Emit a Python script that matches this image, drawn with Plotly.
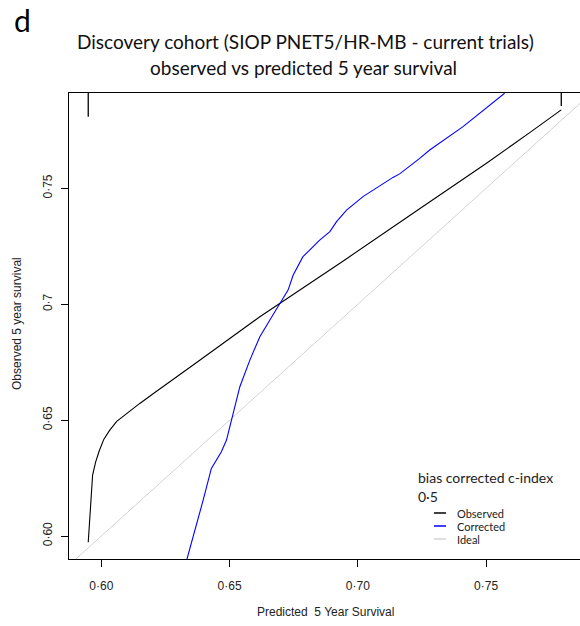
import plotly.graph_objects as go

# ---- data ----
obs_x = [0.5949, 0.5966, 0.5978, 0.5992, 0.6010, 0.6033, 0.6060, 0.6098, 0.6150, 0.6210, 0.6280, 0.6358,
         0.6618, 0.6949, 0.7228, 0.7500, 0.7670, 0.7793]
obs_y = [0.5973, 0.6263, 0.6320, 0.6368, 0.6418, 0.6457, 0.6495, 0.6529, 0.6572, 0.6620, 0.6675, 0.6738,
         0.6946, 0.7191, 0.7402, 0.7607, 0.7740, 0.7838]

cor_x = [0.6334, 0.6371, 0.6397, 0.6429, 0.6468, 0.6488, 0.6507, 0.6540, 0.6579, 0.6618, 0.6657, 0.6696,
         0.6728, 0.6748, 0.6786, 0.6813, 0.6850, 0.6891, 0.6917, 0.6956, 0.7020, 0.7137, 0.7163, 0.7241,
         0.7280, 0.7410, 0.7572]
cor_y = [0.5901, 0.6047, 0.6155, 0.6292, 0.6364, 0.6414, 0.6500, 0.6644, 0.6759, 0.6860, 0.6932, 0.7004,
         0.7061, 0.7126, 0.7205, 0.7234, 0.7275, 0.7313, 0.7356, 0.7406, 0.7464, 0.7547, 0.7562, 0.7629,
         0.7665, 0.7766, 0.7910]

ideal_x = [0.58, 0.80]
ideal_y = [0.58, 0.80]

rug_x = [0.5949, 0.7793]
rug_end = [0.7809, 0.7855]

x_ticks = [0.60, 0.65, 0.70, 0.75]
x_ticklabels = ["0·60", "0·65", "0·70", "0·75"]
y_ticks = [0.60, 0.65, 0.70, 0.75]
y_ticklabels = ["0·60", "0·65", "0·7", "0·75"]

legend_labels = ["Observed", "Corrected", "Ideal"]
legend_colors = ["black", "#0000ff", "#d3d3d3"]
cindex_label = "0·5"

X_RANGE = [0.5874, 0.7866]
Y_RANGE = [0.5901, 0.7911]

# ---- layout geometry ----
W, H = 580, 626
ML, MR, MT, MB = 69, 0, 93, 67
PW, PH = W - ML - MR, H - MT - MB


def px_x(px):
    return (px - ML) / PW


def px_y(py):
    return (H - MB - py) / PH


fig = go.Figure()

fig.add_trace(go.Scatter(x=ideal_x, y=ideal_y, mode="lines",
                         line=dict(color=legend_colors[2], width=1), showlegend=False, hoverinfo="skip"))
fig.add_trace(go.Scatter(x=obs_x, y=obs_y, mode="lines",
                         line=dict(color=legend_colors[0], width=1.1), showlegend=False))
fig.add_trace(go.Scatter(x=cor_x, y=cor_y, mode="lines",
                         line=dict(color=legend_colors[1], width=1.1), showlegend=False))
for rx, re in zip(rug_x, rug_end):
    fig.add_trace(go.Scatter(x=[rx, rx], y=[Y_RANGE[1], re], mode="lines",
                             line=dict(color="black", width=1.3), showlegend=False, hoverinfo="skip"))

ann = []
title_font = dict(family="Lato", size=19, color="#111111")
ann.append(dict(text="d", x=px_x(22), y=px_y(20), font=dict(family="Lato", size=30, color="black")))
ann.append(dict(text="Discovery cohort (SIOP PNET5/HR-MB - current trials)", x=px_x(305), y=px_y(42), font=title_font))
ann.append(dict(text="observed vs predicted 5 year survival", x=px_x(303), y=px_y(67), font=title_font))
ann.append(dict(text="Predicted  5 Year Survival", x=px_x(325), y=px_y(612),
                font=dict(family="Liberation Sans", size=12, color="#222222")))
ann.append(dict(text="Observed 5 year survival", x=px_x(17), y=px_y(324), textangle=-90,
                font=dict(family="Liberation Sans", size=12, color="#222222")))
ann.append(dict(text="bias corrected c-index", x=px_x(416), y=px_y(477), xanchor="left",
                font=dict(family="Lato", size=14, color="#222222")))
ann.append(dict(text=cindex_label, x=px_x(416), y=px_y(496), xanchor="left",
                font=dict(family="Lato", size=14, color="#222222")))
shapes = []
for i, (lab, col) in enumerate(zip(legend_labels, legend_colors)):
    yy = 513 + i * 13
    ann.append(dict(text=lab, x=px_x(455), y=px_y(yy), xanchor="left",
                    font=dict(family="Lato", size=11, color="#222222")))
    shapes.append(dict(type="line", xref="paper", yref="paper", x0=px_x(434), x1=px_x(446),
                       y0=px_y(yy), y1=px_y(yy), line=dict(color=col, width=1.5)))

for a in ann:
    a.update(xref="paper", yref="paper", showarrow=False)
    a.setdefault("xanchor", "center")
    a.setdefault("yanchor", "middle")

fig.update_layout(
    width=W, height=H,
    margin=dict(l=ML, r=MR, t=MT, b=MB),
    paper_bgcolor="white", plot_bgcolor="white",
    annotations=ann, shapes=shapes,
    showlegend=False,
    xaxis=dict(range=X_RANGE, tickvals=x_ticks, ticktext=x_ticklabels,
               showgrid=False, zeroline=False, showline=True, linecolor="black", linewidth=1,
               mirror=True, ticks="outside", ticklen=7, tickcolor="black",
               tickfont=dict(family="Liberation Sans", size=12, color="#222222"),
               ticklabelstandoff=9),
    yaxis=dict(range=Y_RANGE, tickvals=y_ticks, ticktext=y_ticklabels, tickangle=-90,
               showgrid=False, zeroline=False, showline=True, linecolor="black", linewidth=1,
               mirror=False, ticks="outside", ticklen=7, tickcolor="black",
               tickfont=dict(family="Liberation Sans", size=12, color="#222222"),
               ticklabelstandoff=4),
)

fig.write_html("out.html")
